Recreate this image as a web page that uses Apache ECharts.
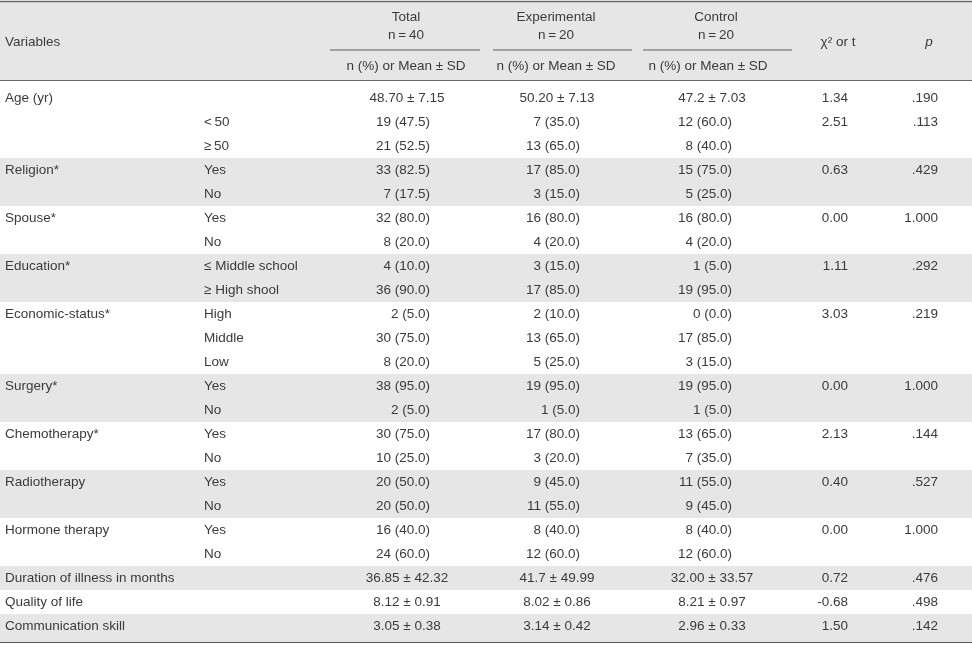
<!DOCTYPE html>
<html>
<head>
<meta charset="utf-8">
<script src="https://cdn.jsdelivr.net/npm/echarts@6/dist/echarts.min.js"></script>
<style>
  html, body { margin: 0; padding: 0; background: #fff; }
  #main { width: 972px; height: 645px; }
</style>
</head>
<body>
<div id="main"></div>
<script>
// table content, one entry per body row
const variables = ['Age (yr)', '', '', 'Religion*', '', 'Spouse*', '', 'Education*', '', 'Economic-status*', '', '', 'Surgery*', '', 'Chemotherapy*', '', 'Radiotherapy', '', 'Hormone therapy', '', 'Duration of illness in months', 'Quality of life', 'Communication skill'];
const levels = ['', '<\u200950', '≥\u200950', 'Yes', 'No', 'Yes', 'No', '≤ Middle school', '≥ High shool', 'High', 'Middle', 'Low', 'Yes', 'No', 'Yes', 'No', 'Yes', 'No', 'Yes', 'No', '', '', ''];
const totalValues = ['48.70 ± 7.15', '19 (47.5)', '21 (52.5)', '33 (82.5)', '7 (17.5)', '32 (80.0)', '8 (20.0)', '4 (10.0)', '36 (90.0)', '2 (5.0)', '30 (75.0)', '8 (20.0)', '38 (95.0)', '2 (5.0)', '30 (75.0)', '10 (25.0)', '20 (50.0)', '20 (50.0)', '16 (40.0)', '24 (60.0)', '36.85 ± 42.32', '8.12 ± 0.91', '3.05 ± 0.38'];
const expValues = ['50.20 ± 7.13', '7 (35.0)', '13 (65.0)', '17 (85.0)', '3 (15.0)', '16 (80.0)', '4 (20.0)', '3 (15.0)', '17 (85.0)', '2 (10.0)', '13 (65.0)', '5 (25.0)', '19 (95.0)', '1 (5.0)', '17 (80.0)', '3 (20.0)', '9 (45.0)', '11 (55.0)', '8 (40.0)', '12 (60.0)', '41.7 ± 49.99', '8.02 ± 0.86', '3.14 ± 0.42'];
const ctrlValues = ['47.2 ± 7.03', '12 (60.0)', '8 (40.0)', '15 (75.0)', '5 (25.0)', '16 (80.0)', '4 (20.0)', '1 (5.0)', '19 (95.0)', '0 (0.0)', '17 (85.0)', '3 (15.0)', '19 (95.0)', '1 (5.0)', '13 (65.0)', '7 (35.0)', '11 (55.0)', '9 (45.0)', '8 (40.0)', '12 (60.0)', '32.00 ± 33.57', '8.21 ± 0.97', '2.96 ± 0.33'];
const statValues = ['1.34', '2.51', '', '0.63', '', '0.00', '', '1.11', '', '3.03', '', '', '0.00', '', '2.13', '', '0.40', '', '0.00', '', '0.72', '-0.68', '1.50'];
const pValues = ['.190', '.113', '', '.429', '', '1.000', '', '.292', '', '.219', '', '', '1.000', '', '.144', '', '.527', '', '1.000', '', '.476', '.498', '.142'];
const shadedRows = [3, 4, 7, 8, 12, 13, 16, 17, 20, 22];

// header
const groups = ['Total', 'Experimental', 'Control'];
const groupSizes = ['n\u2009=\u200940', 'n\u2009=\u200920', 'n\u2009=\u200920'];
const statLabel = 'n (%) or Mean ± SD';
const varHeader = 'Variables';
const testHeader = 'χ² or t';
const pHeader = 'p';

// layout / style
const W = 972;
const rowTop = 86;
const rowH = 24;
const bottomPad = 4;
const textColor = '#3b3b3b';
const shade = '#e6e6e7';
const font = { fontSize: 13.5, fontFamily: 'Liberation Sans, Arial, sans-serif' };

const columns = [
  { values: variables, x: 5, align: 'left' },
  { values: levels, x: 204, align: 'left' },
  { values: totalValues, x: 430, meanX: 407, align: 'right' },
  { values: expValues, x: 580, meanX: 557, align: 'right' },
  { values: ctrlValues, x: 732, meanX: 712, align: 'right' },
  { values: statValues, x: 848, align: 'right' },
  { values: pValues, x: 938, align: 'right' }
];
const groupCenters = [406, 556, 716];
const statCenters = [406, 556, 708];
const underlines = [[330, 480], [493, 632], [643, 792]];

const rowKeys = variables.map((_, i) => String(i));
const cellData = [];
columns.forEach((col, c) => {
  col.values.forEach((v, r) => {
    if (v !== '') cellData.push([c, r]);
  });
});

function txt(text, x, y, align, extra) {
  return {
    type: 'text',
    x: x,
    y: y,
    silent: true,
    style: Object.assign({
      text: text,
      fill: textColor,
      align: align,
      textAlign: align,
      verticalAlign: 'middle',
      textVerticalAlign: 'middle'
    }, font, extra || {})
  };
}
function hline(x1, x2, y, color, width) {
  return {
    type: 'line',
    silent: true,
    shape: { x1: x1, y1: y, x2: x2, y2: y },
    style: { stroke: color, lineWidth: width }
  };
}

const headerElements = [
  { type: 'rect', silent: true, z: 0, shape: { x: 0, y: 2, width: W, height: 78 }, style: { fill: shade } },
  hline(0, W, 1.5, '#6a6a6a', 1.5),
  hline(0, W, 80.5, '#6a6a6a', 1.2),
  hline(0, W, 642, '#555', 2),
  txt(varHeader, 5, 42, 'left'),
  txt(testHeader, 838, 42, 'center'),
  txt(pHeader, 929, 42, 'center', { fontStyle: 'italic' })
];
groups.forEach((g, i) => {
  headerElements.push(txt(g, groupCenters[i], 17, 'center'));
  headerElements.push(txt(groupSizes[i], groupCenters[i], 35, 'center'));
  headerElements.push(txt(statLabel, statCenters[i], 66, 'center'));
  headerElements.push(hline(underlines[i][0], underlines[i][1], 50, '#8a8a8a', 1.5));
});

const chart = echarts.init(document.getElementById('main'));
chart.setOption({
  animation: false,
  graphic: { elements: headerElements },
  grid: { left: 0, right: 0, top: rowTop, height: rowH * rowKeys.length },
  xAxis: { type: 'value', min: 0, max: W, show: false },
  yAxis: { type: 'category', data: rowKeys, inverse: true, show: false },
  series: [
    {
      type: 'custom',
      name: 'bands',
      silent: true,
      clip: false,
      data: shadedRows.map(r => [r]),
      encode: { y: 0 },
      renderItem: function (params, api) {
        const r = api.value(0);
        const center = api.coord([0, r]);
        const h = api.size([0, 1])[1];
        const extra = r === rowKeys.length - 1 ? bottomPad : 0;
        return {
          type: 'rect',
          shape: { x: 0, y: center[1] - h / 2, width: W, height: h + extra },
          style: { fill: shade }
        };
      }
    },
    {
      type: 'custom',
      name: 'cells',
      silent: true,
      clip: false,
      data: cellData,
      encode: { x: 0, y: 1 },
      renderItem: function (params, api) {
        const c = api.value(0);
        const r = api.value(1);
        const col = columns[c];
        const text = col.values[r];
        const isMean = text.indexOf('±') >= 0;
        const x = isMean ? col.meanX : col.x;
        const align = isMean ? 'center' : col.align;
        const p = api.coord([x, r]);
        return txt(text, p[0], p[1], align);
      }
    }
  ]
});
</script>
</body>
</html>
